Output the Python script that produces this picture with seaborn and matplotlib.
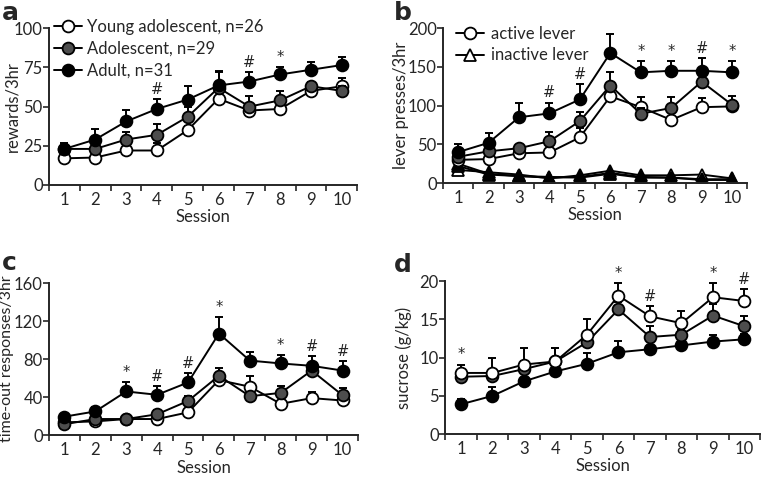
import matplotlib
matplotlib.use("Agg")
import matplotlib.pyplot as plt
import seaborn as sns
import numpy as np
import pandas as pd

sns.set_style("ticks")
plt.rcParams['font.family'] = ['Lato', 'DejaVu Sans']
plt.rcParams['font.size'] = 10.5

sessions = list(range(1, 11))
groups = ["Young adolescent, n=26", "Adolescent, n=29", "Adult, n=31"]
face_colors = ["white", "#4d4d4d", "black"]

# a: rewards/3hr
rew_young = [17, 17.5, 22, 22, 35, 55, 47.5, 48.5, 60, 63]
rew_adol = [23, 23, 29, 32, 43.5, 62, 50, 54, 63, 60]
rew_adult = [23, 29, 40.5, 48.5, 54.5, 63.5, 66, 70.5, 73.5, 76.5]
rew_young_err = [2, 2, 2, 5, 2.5, 2, 2, 2, 2, 5.5]
rew_adol_err = [2, 3, 4.5, 7, 6, 10, 6.5, 6, 3, 3]
rew_adult_err = [4, 6.5, 7.5, 6.5, 8.5, 9, 6, 5, 5, 5]
rew_sig = ["", "", "", "#", "", "", "#", "*", "", ""]

# b: lever presses/3hr (active = circles, inactive = triangles)
act_young = [30, 31, 38.5, 39.5, 59, 112, 98, 81.5, 98, 99]
act_adol = [34, 41, 45, 54, 80, 126, 89.5, 97, 131, 101]
act_adult = [40, 52, 85, 90, 108, 168, 143, 145, 145, 143]
act_young_err = [3, 3, 3, 3, 12, 8, 13, 4, 12, 4]
act_adol_err = [4, 4, 4, 12, 12, 17, 8, 14, 8, 11]
act_adult_err = [10, 13, 18, 14, 20, 25, 15, 13, 17, 15]
inact_young = [17, 14, 11, 6, 10, 16, 10, 10, 11, 6]
inact_adol = [22, 11, 9, 7, 8, 13, 8, 7, 5, 5]
inact_adult = [25, 12, 9, 8, 7, 12, 7, 7, 4, 4]
lever_sig = ["", "", "", "#", "#", "", "*", "*", "#", "*"]

# c: time-out responses/3hr
to_young = [13.5, 14.5, 17, 17, 24, 58, 51, 33, 39, 36.5]
to_adol = [11.5, 17, 17, 22, 36, 62.5, 41, 44.5, 68, 42]
to_adult = [19.5, 25, 46, 42.5, 55.5, 107, 78.5, 75.5, 73, 68]
to_young_err = [2, 2, 2, 2, 2, 3, 11, 2, 6, 3]
to_adol_err = [2, 2, 3, 5, 5, 8, 3, 7, 3, 8]
to_adult_err = [3, 5, 10, 9, 10, 17, 9.5, 9, 10.5, 10]
to_sig = ["", "", "*", "#", "#", "*", "", "*", "#", "#"]

# d: sucrose (g/kg)
suc_young = [8.0, 8.0, 9.1, 9.5, 13.0, 18.1, 15.4, 14.5, 17.9, 17.4]
suc_adol = [7.5, 7.6, 8.5, 9.5, 12.0, 16.3, 12.7, 13.0, 15.5, 14.1]
suc_adult = [3.9, 5.0, 6.9, 8.2, 9.2, 10.7, 11.1, 11.6, 12.1, 12.4]
suc_young_err = [1.1, 1.9, 2.1, 1.7, 2.1, 1.7, 1.4, 1.6, 1.8, 1.6]
suc_adol_err = [0.4, 0.5, 1.0, 1.7, 0.6, 1.0, 1.5, 0.6, 1.5, 1.3]
suc_adult_err = [0.7, 1.1, 0.4, 0.4, 1.4, 1.5, 0.4, 0.4, 0.8, 0.7]
suc_sig = ["*", "", "", "", "", "*", "#", "", "*", "#"]

fig = plt.figure(figsize=(7.61, 4.78), dpi=100)
ax_a = fig.add_axes([0.0644, 0.613, 0.405, 0.328])
ax_b = fig.add_axes([0.582, 0.617, 0.400, 0.324])
ax_c = fig.add_axes([0.0644, 0.0896, 0.406, 0.318])
ax_d = fig.add_axes([0.585, 0.0918, 0.414, 0.320])


def draw_group(ax, y, err, fc, marker="o", label=None, z=3):
    df = pd.DataFrame({"Session": sessions, "value": y})
    if err is not None:
        ax.errorbar(sessions, y, yerr=[np.zeros(len(y)), err], fmt="none",
                    ecolor="black", elinewidth=1.4, capsize=2.6,
                    capthick=1.4, zorder=z - 1)
    sns.lineplot(data=df, x="Session", y="value", ax=ax, color="black",
                 lw=1.4, marker=marker, markersize=8.5,
                 markerfacecolor=fc, markeredgecolor="black",
                 markeredgewidth=1.3, label=label, zorder=z, legend=False)


def style_axis(ax, ymax, yticks, ylabel, label_x, ylabel_size=12):
    ax.set_xlim(0.5, 10.5)
    ax.set_ylim(0, ymax)
    ax.set_xticks(np.arange(0.5, 11, 1.0))
    ax.set_xticklabels([])
    ax.set_xticks(sessions, minor=True)
    ax.set_xticklabels([str(s) for s in sessions], minor=True)
    ax.tick_params(axis="x", which="minor", length=0, pad=5, labelsize=12)
    ax.tick_params(axis="x", which="major", length=4, width=1.2, direction="out")
    ax.set_yticks(yticks)
    ax.tick_params(axis="y", length=4, width=1.2, labelsize=12, pad=0.5)
    ax.set_ylabel(ylabel, fontsize=ylabel_size)
    ax.yaxis.set_label_coords(label_x, 0.5)
    ax.set_xlabel("Session", fontsize=12, labelpad=1)
    sns.despine(ax=ax)
    for s in ["left", "bottom"]:
        ax.spines[s].set_linewidth(1.4)


def add_sig(ax, tops, sig):
    for s, t, m in zip(sessions, tops, sig):
        if m:
            ax.annotate(m, (s, t), xytext=(0, 1.5), textcoords="offset points",
                        ha="center", va="bottom", fontsize=10.5,
                        family="DejaVu Sans")


# panel a
for y, e, fc, lab, z in zip([rew_young, rew_adol, rew_adult],
                            [rew_young_err, rew_adol_err, rew_adult_err],
                            face_colors, groups, [3, 5, 7]):
    draw_group(ax_a, y, e, fc, label=lab, z=z)
style_axis(ax_a, 100, [0, 25, 50, 75, 100], "rewards/3hr", -0.094)
tops = np.max([np.add(rew_young, rew_young_err), np.add(rew_adol, rew_adol_err),
               np.add(rew_adult, rew_adult_err)], axis=0)
add_sig(ax_a, tops, rew_sig)
h, l = ax_a.get_legend_handles_labels()
ax_a.legend(h, l, loc="upper left", bbox_to_anchor=(-0.005, 1.1), frameon=False,
            handlelength=1.7, handletextpad=0.25, labelspacing=0.35,
            borderaxespad=0, fontsize=12)

# panel b
for y, e, fc, z in zip([inact_young, inact_adol, inact_adult], [None] * 3,
                       face_colors, [2, 2, 2]):
    draw_group(ax_b, y, e, fc, marker="^", z=z)
for y, e, fc, z in zip([act_young, act_adol, act_adult],
                       [act_young_err, act_adol_err, act_adult_err],
                       face_colors, [4, 6, 8]):
    draw_group(ax_b, y, e, fc, z=z)
style_axis(ax_b, 200, [0, 50, 100, 150, 200], "lever presses/3hr", -0.112)
tops = np.max([np.add(act_young, act_young_err), np.add(act_adol, act_adol_err),
               np.add(act_adult, act_adult_err)], axis=0)
add_sig(ax_b, tops, lever_sig)
lh = [plt.Line2D([], [], color="black", lw=1.4, marker=m, markersize=8.5,
                 markerfacecolor="white", markeredgecolor="black",
                 markeredgewidth=1.3) for m in ["o", "^"]]
ax_b.legend(lh, ["active lever", "inactive lever"], loc="upper left",
            bbox_to_anchor=(0.02, 1.06), frameon=False, handlelength=1.7,
            handletextpad=0.4, labelspacing=0.35, borderaxespad=0, fontsize=12)

# panel c
for y, e, fc, z in zip([to_young, to_adol, to_adult],
                       [to_young_err, to_adol_err, to_adult_err],
                       face_colors, [3, 5, 7]):
    draw_group(ax_c, y, e, fc, z=z)
style_axis(ax_c, 160, [0, 40, 80, 120, 160], "time-out responses/3hr", -0.113,
           ylabel_size=11.5)
tops = np.max([np.add(to_young, to_young_err), np.add(to_adol, to_adol_err),
               np.add(to_adult, to_adult_err)], axis=0)
add_sig(ax_c, tops, to_sig)

# panel d
for y, e, fc, z in zip([suc_adult, suc_adol, suc_young],
                       [suc_adult_err, suc_adol_err, suc_young_err],
                       face_colors[::-1], [3, 5, 7]):
    draw_group(ax_d, y, e, fc, z=z)
style_axis(ax_d, 20, [0, 5, 10, 15, 20], "sucrose (g/kg)", -0.105)
tops = np.max([np.add(suc_young, suc_young_err), np.add(suc_adol, suc_adol_err),
               np.add(suc_adult, suc_adult_err)], axis=0)
add_sig(ax_d, tops, suc_sig)

for t, x, y in [("a", 0.002, 0.998), ("b", 0.517, 0.998),
                ("c", 0.002, 0.475), ("d", 0.517, 0.47)]:
    fig.text(x, y, t, fontsize=18, fontweight="bold", va="top", ha="left",
             family="DejaVu Sans")

fig.savefig("out.png", dpi=100)
